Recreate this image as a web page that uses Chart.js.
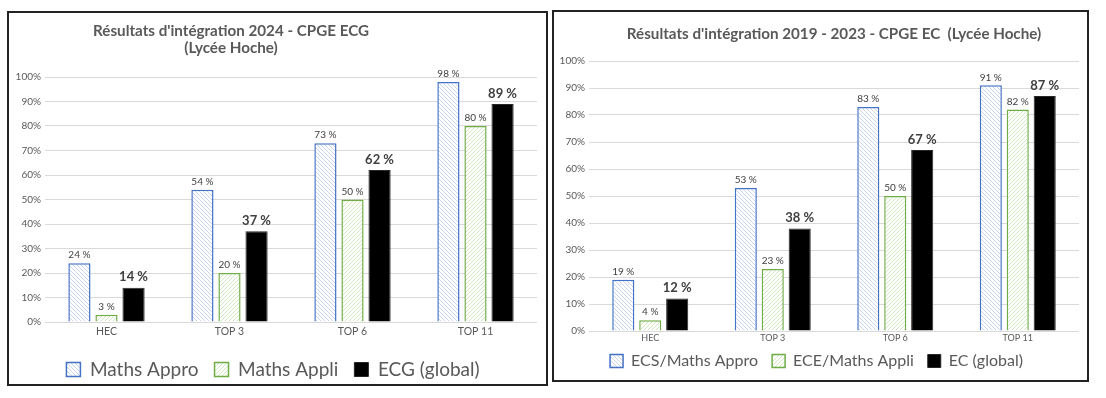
<!DOCTYPE html>
<html>
<head>
<meta charset="utf-8">
<script src="https://cdn.jsdelivr.net/npm/chart.js@4.4.1/dist/chart.umd.min.js"></script>
<style>
  body { margin: 0; background: #fff; width: 1106px; height: 398px; position: relative; overflow: hidden; }
  .panel { position: absolute; border: 2px solid #222; background: #fff; overflow: hidden; }
  #p1 { left: 7px; top: 11px; width: 537px; height: 371px; }
  #p2 { left: 552px; top: 10px; width: 533px; height: 368px; }
  .box { position: relative; }
  #b1 { width: 537px; height: 376px; }
  #b2 { width: 533px; height: 377px; }
  canvas { display: block; }
</style>
</head>
<body>
<div class="panel" id="p1"><div class="box" id="b1"><canvas id="chart2024"></canvas></div></div>
<div class="panel" id="p2"><div class="box" id="b2"><canvas id="chart1923"></canvas></div></div>
<script>
// --- data ---
const categories = ["HEC", "TOP 3", "TOP 6", "TOP 11"];
const yTicks = [0, 10, 20, 30, 40, 50, 60, 70, 80, 90, 100];

const names2024 = ["Maths Appro", "Maths Appli", "ECG (global)"];
const appro2024 = [24, 54, 73, 98];
const appli2024 = [3, 20, 50, 80];
const global2024 = [14, 37, 62, 89];

const names1923 = ["ECS/Maths Appro", "ECE/Maths Appli", "EC (global)"];
const ecs1923 = [19, 53, 83, 91];
const ece1923 = [4, 23, 50, 82];
const global1923 = [12, 38, 67, 87];

const FONT = "Lato, 'Open Sans', sans-serif";
const GREY = "#595959";

function hatch(line, forward) {
  const c = document.createElement("canvas");
  c.width = 4; c.height = 4;
  const g = c.getContext("2d");
  g.fillStyle = "#fff";
  g.fillRect(0, 0, 4, 4);
  g.strokeStyle = line;
  g.lineWidth = 1;
  g.beginPath();
  if (forward) {
    g.moveTo(-1, 5); g.lineTo(5, -1);
    g.moveTo(-1, 1); g.lineTo(1, -1);
    g.moveTo(3, 5); g.lineTo(5, 3);
  } else {
    g.moveTo(-1, -1); g.lineTo(5, 5);
    g.moveTo(-1, 3); g.lineTo(1, 5);
    g.moveTo(3, -1); g.lineTo(5, 1);
  }
  g.stroke();
  return g.createPattern(c, "repeat");
}

// value labels above each bar
const valueLabels = {
  id: "valueLabels",
  afterDatasetsDraw(chart) {
    const ctx = chart.ctx;
    chart.data.datasets.forEach((ds, i) => {
      const meta = chart.getDatasetMeta(i);
      meta.data.forEach((bar, j) => {
        ctx.save();
        ctx.font = ds.labelBold ? "bold 13px " + FONT : "10px " + FONT;
        ctx.fillStyle = "#404040";
        ctx.textAlign = "center";
        ctx.textBaseline = "bottom";
        ctx.fillText(ds.data[j] + " %", bar.x, bar.y - (ds.labelBold ? 4 : 3));
        ctx.restore();
      });
    });
  }
};

// title drawn off-centre like the original
const chartTitle = {
  id: "chartTitle",
  afterDraw(chart, args, opts) {
    const ctx = chart.ctx;
    ctx.save();
    ctx.font = "bold 15.2px " + FONT;
    ctx.fillStyle = GREY;
    ctx.textAlign = "center";
    ctx.textBaseline = "middle";
    opts.lines.forEach((t, k) => ctx.fillText(t, opts.x, opts.y + k * 17));
    ctx.restore();
  }
};

// nudge the legend closer to the axis labels
const legendShift = {
  id: "legendShift",
  afterLayout(chart, args, opts) {
    if (!opts.dy) return;
    chart.legend.top += opts.dy;
    chart.legend.bottom += opts.dy;
  }
};

function makeChart(id, cfg) {
  const datasets = [
    {
      label: cfg.names[0], data: cfg.series[0],
      backgroundColor: hatch("#c9d6ef", false),
      borderColor: "#4472c4", borderWidth: 1.5
    },
    {
      label: cfg.names[1], data: cfg.series[1],
      backgroundColor: hatch("#cfe6bf", true),
      borderColor: "#70ad47", borderWidth: 1.5
    },
    {
      label: cfg.names[2], data: cfg.series[2],
      backgroundColor: "#000", borderColor: "#262626", borderWidth: 1,
      labelBold: true
    }
  ];
  datasets.forEach(d => { d.categoryPercentage = 0.66; d.barPercentage = 0.82; });

  return new Chart(document.getElementById(id), {
    type: "bar",
    data: { labels: categories, datasets: datasets },
    plugins: [valueLabels, chartTitle, legendShift],
    options: {
      responsive: true,
      maintainAspectRatio: false,
      animation: false,
      layout: { padding: cfg.padding },
      plugins: {
        tooltip: { enabled: false },
        title: { display: false },
        chartTitle: cfg.title,
        legendShift: { dy: cfg.legendDy },
        legend: {
          position: "bottom",
          labels: {
            color: GREY,
            font: { family: FONT, size: cfg.legendSize },
            boxWidth: cfg.legendBox,
            boxHeight: cfg.legendBox,
            padding: cfg.legendPad
          }
        }
      },
      scales: {
        x: {
          afterFit(scale) { scale.height = cfg.xHeight; },
          grid: { display: false, drawTicks: false },
          border: { display: false },
          ticks: { color: GREY, font: { family: FONT, size: cfg.xSize }, padding: cfg.xPad }
        },
        y: {
          min: 0, max: 100,
          afterFit(scale) { scale.width = cfg.yWidth; },
          afterBuildTicks(scale) { scale.ticks = yTicks.map(v => ({ value: v })); },
          grid: { color: "#d9d9d9", drawTicks: false },
          border: { display: false },
          ticks: { color: GREY, font: { family: FONT, size: 10 }, padding: 4, callback: v => v + "%" }
        }
      }
    }
  });
}

makeChart("chart2024", {
  names: names2024,
  series: [appro2024, appli2024, global2024],
  title: { lines: ["Résultats d'intégration 2024 - CPGE ECG", "(Lycée Hoche)"], x: 222, y: 18 },
  padding: { left: 0, right: 9, top: 64, bottom: 0 },
  legendSize: 19, legendBox: 14, legendPad: 16, legendDy: 0,
  xSize: 10.5, xPad: 3, xHeight: 22, yWidth: 36
});

makeChart("chart1923", {
  names: names1923,
  series: [ecs1923, ece1923, global1923],
  title: { lines: ["Résultats d'intégration 2019 - 2023 - CPGE EC  (Lycée Hoche)"], x: 280, y: 22 },
  padding: { left: 0, right: 8, top: 49, bottom: 0 },
  legendSize: 16, legendBox: 13, legendPad: 14, legendDy: -10,
  xSize: 9, xPad: 2, xHeight: 18, yWidth: 35
});
</script>
</body>
</html>
